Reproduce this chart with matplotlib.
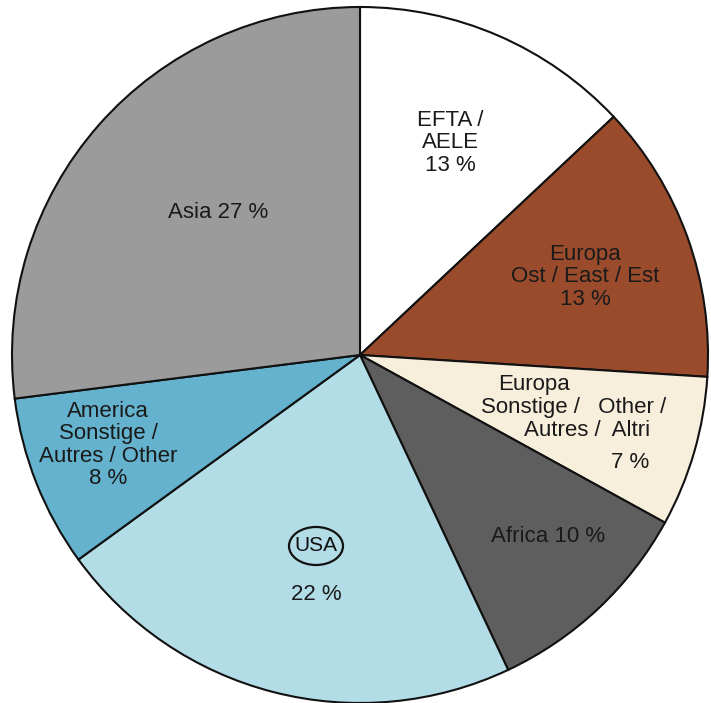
import matplotlib.pyplot as plt
from matplotlib.patches import Ellipse

# доли по регионам, по часовой стрелке от 12 часов
regions = ['EFTA / AELE', 'Europa Ost', 'Europa Sonstige', 'Africa',
           'USA', 'America Sonstige', 'Asia']
shares = [13, 13, 7, 10, 22, 8, 27]
colors = ['#ffffff', '#9a4b2c', '#f8eedc', '#5e5e5e',
          '#b3dde6', '#64b2cd', '#9b9b9b']

plt.rcParams['font.family'] = ['Liberation Sans', 'DejaVu Sans']

W, H = 711, 703
CX, CY, R = 360, 355, 348  # центр и радиус круга в пикселях
FS = 16

fig = plt.figure(figsize=(W / 100, H / 100), dpi=100)
ax = fig.add_axes([0, 0, 1, 1])

wedges, _ = ax.pie(shares, colors=colors, startangle=90, counterclock=False,
                   radius=1, wedgeprops=dict(edgecolor='#111111', linewidth=1.5))
ax.set_xlim(-CX / R, (W - CX) / R)
ax.set_ylim(-(H - CY) / R, CY / R)
ax.set_aspect('equal')
ax.axis('off')


def px(x, y):
    return (x - CX) / R, (CY - y) / R


def put(text, x, y, ha='center'):
    ax.text(*px(x, y), text, ha=ha, va='center', fontsize=FS,
            color='#1a1a1a', linespacing=1.1)


put('EFTA /\nAELE\n13 %', 450, 143)
put('Europa\nOst / East / Est\n13 %', 585, 277)
# Europa Sonstige - строки со сдвигом
put('Europa', 498, 385, ha='left')
put('Sonstige /   Other /', 481, 408, ha='left')
put('Autres /  Altri', 524, 431, ha='left')
put('7 %', 630, 463)
put('Africa 10 %', 548, 537)
put('22 %', 316, 594)
put('America\nSonstige /\nAutres / Other\n8 %', 108, 445)
put('Asia 27 %', 218, 213)

# надпись USA в овале
ux, uy = px(316, 546)
ax.text(ux, uy, 'USA', ha='center', va='center', fontsize=FS - 1, color='#111111')
ax.add_patch(Ellipse((ux, uy), 54 / R, 38 / R, fill=False,
                     edgecolor='#111111', linewidth=1.6))

fig.savefig('out.png', dpi=100, facecolor='white')
